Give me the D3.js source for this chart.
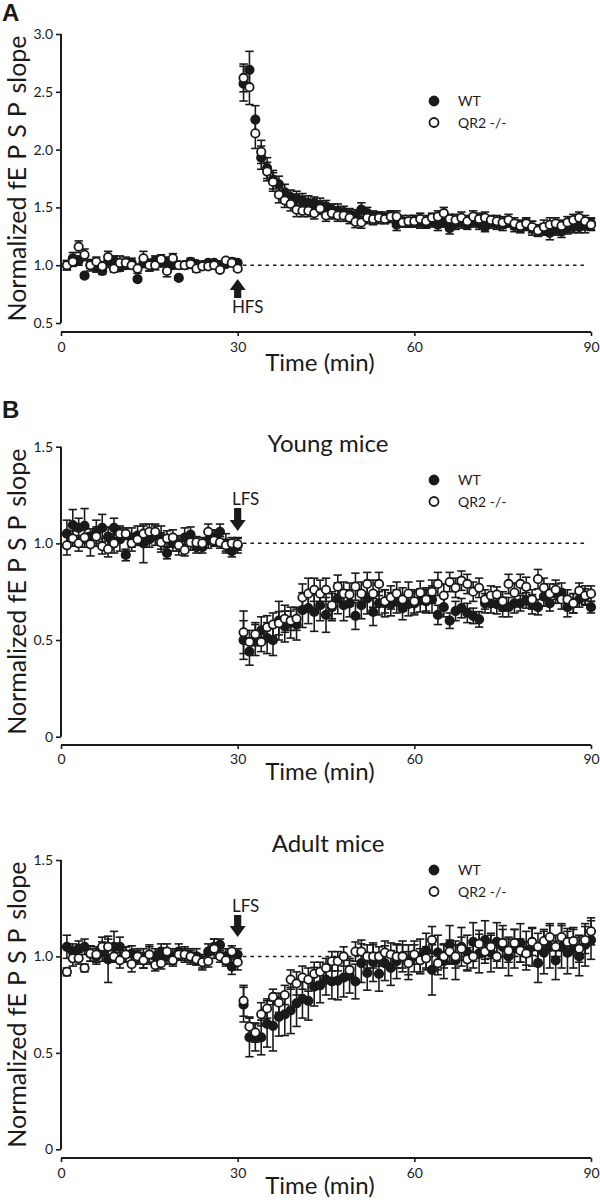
<!DOCTYPE html>
<html>
<head>
<meta charset="utf-8">
<script src="https://cdn.jsdelivr.net/npm/d3@7"></script>
<style>
  html, body { margin: 0; padding: 0; background: #fff; }
  svg text { font-family: Lato, "Open Sans", sans-serif; fill: #1a1a1a; }
</style>
</head>
<body>
<svg id="chart" width="600" height="1200"></svg>
<script>
// ---------- DATA ----------
const time = [1,2,3,4,5,6,7,8,9,10,11,12,13,14,15,16,17,18,19,20,21,22,23,24,25,26,27,28,29,30,
  31,32,33,34,35,36,37,38,39,40,41,42,43,44,45,46,47,48,49,50,51,52,53,54,55,56,57,58,59,60,
  61,62,63,64,65,66,67,68,69,70,71,72,73,74,75,76,77,78,79,80,81,82,83,84,85,86,87,88,89,90];
const seriesNames = ["WT", "QR2 -/-"];
const xTicks = [0, 30, 60, 90];
const yTicksA = [0.5, 1.0, 1.5, 2.0, 2.5, 3.0];
const yTicksB = [0, 0.5, 1.0, 1.5];
const panelTitles = ["", "Young mice", "Adult mice"];
const stimLabels = ["HFS", "LFS", "LFS"];
const xLabel = "Time (min)";

// Panel A (HFS, LTP)
const aWT = [1.00,1.06,1.04,0.91,1.00,0.98,0.95,1.03,1.04,0.98,1.00,1.02,0.88,1.02,1.00,1.04,1.02,1.03,1.00,0.89,1.00,1.03,1.01,1.00,1.02,1.02,1.00,1.01,1.03,1.02,
  2.57,2.69,2.26,1.93,1.84,1.74,1.70,1.63,1.59,1.58,1.56,1.54,1.54,1.52,1.51,1.48,1.47,1.46,1.44,1.43,1.48,1.45,1.42,1.42,1.41,1.42,1.35,1.38,1.37,1.38,
  1.37,1.36,1.38,1.35,1.37,1.32,1.36,1.37,1.35,1.38,1.36,1.33,1.37,1.36,1.35,1.37,1.34,1.33,1.35,1.32,1.30,1.31,1.28,1.31,1.29,1.32,1.33,1.33,1.34,1.36];
const aWTerr = [0.04,0.05,0.04,0.02,0.05,0.04,0.03,0.05,0.04,0.03,0.03,0.04,0.02,0.04,0.05,0.04,0.03,0.04,0.03,0.02,0.03,0.03,0.02,0.02,0.02,0.02,0.02,0.02,0.03,0.02,
  0.15,0.16,0.12,0.10,0.09,0.08,0.07,0.07,0.06,0.06,0.06,0.06,0.05,0.06,0.05,0.05,0.06,0.05,0.05,0.05,0.06,0.05,0.05,0.04,0.05,0.05,0.05,0.05,0.04,0.05,
  0.05,0.04,0.05,0.05,0.04,0.05,0.05,0.05,0.04,0.05,0.05,0.04,0.05,0.05,0.05,0.04,0.05,0.05,0.05,0.06,0.05,0.05,0.06,0.05,0.05,0.05,0.05,0.05,0.06,0.05];
const aKO = [1.00,1.03,1.16,1.09,1.00,1.03,0.99,1.07,0.97,1.02,1.02,1.00,0.97,1.06,1.00,1.00,1.05,0.95,1.06,1.00,1.00,1.01,0.97,0.99,0.99,1.00,0.96,1.04,1.02,0.97,
  2.62,2.54,2.14,1.98,1.81,1.72,1.61,1.56,1.53,1.48,1.47,1.47,1.45,1.49,1.43,1.45,1.43,1.43,1.41,1.375,1.37,1.41,1.40,1.41,1.40,1.42,1.42,1.37,1.38,1.38,
  1.40,1.38,1.41,1.42,1.45,1.40,1.39,1.41,1.38,1.42,1.40,1.41,1.39,1.38,1.37,1.39,1.36,1.34,1.36,1.33,1.30,1.33,1.35,1.36,1.34,1.37,1.39,1.41,1.38,1.35];
const aKOerr = [0.04,0.04,0.05,0.05,0.03,0.04,0.04,0.05,0.03,0.06,0.05,0.03,0.04,0.06,0.05,0.04,0.04,0.05,0.04,0.03,0.03,0.02,0.03,0.02,0.02,0.02,0.02,0.02,0.02,0.02,
  0.12,0.15,0.13,0.10,0.08,0.08,0.07,0.06,0.06,0.06,0.05,0.05,0.05,0.05,0.05,0.05,0.05,0.05,0.05,0.05,0.05,0.05,0.05,0.05,0.04,0.05,0.05,0.04,0.05,0.05,
  0.05,0.05,0.04,0.05,0.05,0.04,0.05,0.05,0.05,0.05,0.05,0.05,0.04,0.05,0.05,0.05,0.05,0.05,0.05,0.05,0.05,0.06,0.06,0.05,0.05,0.05,0.05,0.05,0.05,0.05];

// Panel B young (LFS, LTD)
const yWT = [1.05,1.095,1.08,1.09,1.035,1.06,1.08,1.035,1.08,1.02,0.94,1.03,1.04,1.00,1.02,1.04,1.03,0.95,1.00,0.99,1.03,1.045,0.98,0.98,1.015,1.03,1.06,1.00,0.96,0.99,
  0.50,0.44,0.50,0.55,0.51,0.50,0.60,0.57,0.59,0.58,0.655,0.665,0.645,0.68,0.63,0.67,0.716,0.68,0.69,0.625,0.68,0.715,0.645,0.69,0.69,0.685,0.70,0.665,0.685,0.69,
  0.705,0.70,0.71,0.63,0.67,0.60,0.65,0.665,0.64,0.625,0.607,0.69,0.69,0.685,0.67,0.67,0.69,0.69,0.705,0.685,0.67,0.725,0.69,0.74,0.745,0.67,0.69,0.71,0.725,0.67];
const yWTerr = [0.07,0.08,0.05,0.09,0.04,0.06,0.07,0.05,0.05,0.06,0.03,0.05,0.05,0.10,0.04,0.05,0.06,0.03,0.04,0.05,0.05,0.04,0.03,0.03,0.04,0.04,0.04,0.05,0.03,0.04,
  0.10,0.07,0.08,0.07,0.08,0.08,0.10,0.08,0.08,0.08,0.09,0.08,0.10,0.08,0.09,0.07,0.08,0.08,0.07,0.07,0.07,0.08,0.07,0.06,0.07,0.06,0.06,0.06,0.06,0.06,
  0.06,0.06,0.07,0.05,0.05,0.04,0.05,0.05,0.05,0.04,0.04,0.05,0.05,0.05,0.05,0.05,0.05,0.04,0.04,0.05,0.04,0.05,0.04,0.05,0.05,0.05,0.05,0.04,0.04,0.03];
const yKO = [0.99,1.025,1.00,1.03,0.995,1.035,0.985,0.97,1.00,1.05,1.05,1.00,1.02,1.05,1.06,1.06,1.005,1.025,1.03,0.99,0.965,1.005,1.005,1.00,1.06,1.015,1.005,0.99,1.00,0.995,
  0.54,0.49,0.53,0.49,0.566,0.58,0.587,0.61,0.60,0.61,0.72,0.74,0.76,0.74,0.76,0.68,0.776,0.74,0.735,0.776,0.74,0.79,0.74,0.79,0.70,0.72,0.74,0.71,0.74,0.70,
  0.745,0.71,0.75,0.79,0.73,0.80,0.77,0.807,0.79,0.75,0.77,0.71,0.73,0.735,0.70,0.79,0.745,0.79,0.775,0.71,0.815,0.77,0.74,0.76,0.71,0.71,0.69,0.755,0.73,0.74];
const yKOerr = [0.05,0.04,0.04,0.05,0.06,0.05,0.04,0.04,0.05,0.04,0.03,0.04,0.03,0.04,0.04,0.04,0.05,0.04,0.04,0.03,0.03,0.04,0.03,0.03,0.04,0.03,0.03,0.03,0.03,0.03,
  0.11,0.06,0.06,0.05,0.06,0.06,0.06,0.07,0.05,0.06,0.07,0.08,0.06,0.07,0.06,0.07,0.06,0.06,0.06,0.07,0.06,0.06,0.07,0.06,0.06,0.06,0.06,0.06,0.06,0.06,
  0.06,0.06,0.06,0.06,0.06,0.05,0.05,0.05,0.05,0.05,0.05,0.05,0.05,0.04,0.05,0.05,0.05,0.05,0.05,0.05,0.05,0.05,0.05,0.05,0.05,0.05,0.05,0.04,0.05,0.04];

// Panel B adult (LFS, LTD)
const dWT = [1.05,1.025,1.04,1.05,1.015,1.00,1.025,0.985,1.05,1.05,1.01,1.015,1.00,0.99,1.01,1.00,1.025,1.00,1.00,1.025,1.01,1.00,1.00,0.97,1.025,1.05,1.06,1.00,0.947,1.01,
  0.75,0.58,0.58,0.58,0.65,0.64,0.687,0.70,0.72,0.757,0.78,0.77,0.843,0.85,0.88,0.87,0.875,0.89,0.90,0.87,0.965,0.915,0.97,0.91,0.965,0.94,0.975,1.00,0.97,1.00,
  1.00,1.03,0.93,1.02,0.975,1.06,0.98,1.05,1.02,1.075,1.015,1.085,1.02,1.075,1.05,1.00,1.04,1.07,1.03,1.05,0.965,1.02,1.05,0.98,1.05,1.02,1.04,1.00,1.06,1.085];
const dWTerr = [0.06,0.04,0.04,0.04,0.04,0.04,0.05,0.12,0.08,0.05,0.04,0.04,0.04,0.05,0.04,0.04,0.04,0.04,0.04,0.04,0.04,0.04,0.04,0.04,0.04,0.04,0.03,0.04,0.04,0.03,
  0.09,0.10,0.07,0.09,0.12,0.13,0.10,0.11,0.12,0.12,0.10,0.10,0.10,0.09,0.08,0.09,0.10,0.10,0.09,0.09,0.10,0.09,0.10,0.09,0.09,0.09,0.09,0.08,0.09,0.08,
  0.09,0.09,0.13,0.09,0.09,0.10,0.10,0.10,0.09,0.10,0.10,0.10,0.10,0.10,0.11,0.10,0.10,0.10,0.10,0.10,0.10,0.11,0.11,0.10,0.11,0.11,0.10,0.10,0.11,0.10];
const dKO = [0.92,0.99,0.99,0.94,1.015,1.01,1.05,1.05,1.00,0.98,1.01,0.96,1.00,0.98,1.01,0.955,0.965,1.025,0.98,1.01,1.01,1.00,0.985,0.97,0.975,1.04,1.00,0.98,1.025,0.97,
  0.77,0.636,0.605,0.70,0.73,0.79,0.76,0.80,0.88,0.86,0.89,0.88,0.91,0.92,0.94,0.975,0.975,1.00,0.93,1.025,1.025,1.00,1.00,1.00,1.02,1.01,1.00,1.00,0.965,1.01,
  0.98,0.99,1.085,0.965,1.00,1.025,1.00,1.04,0.985,1.00,1.065,1.025,1.05,1.00,1.07,1.03,1.07,1.03,1.015,1.075,1.05,1.08,1.10,1.05,1.10,1.075,1.08,1.04,1.085,1.13];
const dKOerr = [0.02,0.04,0.03,0.02,0.04,0.04,0.05,0.04,0.03,0.04,0.04,0.04,0.03,0.04,0.05,0.03,0.03,0.04,0.03,0.03,0.03,0.03,0.03,0.03,0.03,0.05,0.03,0.03,0.03,0.04,
  0.08,0.05,0.05,0.06,0.05,0.04,0.05,0.05,0.05,0.06,0.06,0.06,0.06,0.05,0.05,0.05,0.05,0.05,0.05,0.05,0.06,0.06,0.06,0.05,0.06,0.06,0.06,0.06,0.06,0.05,
  0.06,0.06,0.07,0.06,0.06,0.06,0.06,0.06,0.06,0.06,0.07,0.06,0.06,0.06,0.07,0.06,0.07,0.06,0.06,0.07,0.07,0.06,0.07,0.06,0.07,0.07,0.07,0.07,0.07,0.07];

// ---------- LAYOUT ----------
const svg = d3.select("#chart");
const ink = "#1a1a1a";
const X0 = 61, X1 = 591;

const panels = [
  { wt: aWT, wtE: aWTerr, ko: aKO, koE: aKOerr, dom: [0.5, 3.0], top: 34, bot: 323, xAxisY: 332,
    ticks: yTicksA, fmt: d3.format(".1f"), title: panelTitles[0], titleY: 0, stim: stimLabels[0], up: true,
    stimTextY: 313, arrowTip: 279, arrowEnd: 298, legY: 101, letter: "A", letterY: 21, xLabY: 371, xTickY: 352 },
  { wt: yWT, wtE: yWTerr, ko: yKO, koE: yKOerr, dom: [0, 1.5], top: 446.7, bot: 736.7, xAxisY: 745,
    ticks: yTicksB, fmt: d => d === 0 ? "0" : d3.format(".1f")(d), title: panelTitles[1], titleY: 452, stim: stimLabels[1], up: false,
    stimTextY: 505, arrowTip: 531, arrowEnd: 508, legY: 480, letter: "B", letterY: 418, xLabY: 780, xTickY: 764 },
  { wt: dWT, wtE: dWTerr, ko: dKO, koE: dKOerr, dom: [0, 1.5], top: 860, bot: 1149.3, xAxisY: 1158,
    ticks: yTicksB, fmt: d => d === 0 ? "0" : d3.format(".1f")(d), title: panelTitles[2], titleY: 852, stim: stimLabels[2], up: false,
    stimTextY: 912, arrowTip: 937, arrowEnd: 915, legY: 870, letter: "", letterY: 0, xLabY: 1194, xTickY: 1178 }
];

panels.forEach(p => {
  const x = d3.scaleLinear().domain([0, 90]).range([X0, X1]);
  const y = d3.scaleLinear().domain(p.dom).range([p.bot, p.top]);
  const g = svg.append("g");

  // Y axis
  const yAxis = g.append("g").attr("transform", `translate(${X0},0)`)
    .call(d3.axisLeft(y).tickValues(p.ticks).tickFormat(p.fmt).tickSize(5).tickPadding(3));
  // X axis
  const xAxis = g.append("g").attr("transform", `translate(0,${p.xAxisY})`)
    .call(d3.axisBottom(x).tickValues(xTicks).tickSize(4).tickPadding(8));
  [yAxis, xAxis].forEach(a => {
    a.select(".domain").attr("stroke", ink).attr("stroke-width", 2);
    a.selectAll(".tick line").attr("stroke", ink).attr("stroke-width", 1.6);
    a.selectAll(".tick text").attr("font-size", 14).attr("fill", ink)
      .style("font-family", "Lato, 'Open Sans', sans-serif");
  });
  yAxis.select(".domain").attr("d", `M0,${y.range()[0]}V${y.range()[1]}`);
  xAxis.select(".domain").attr("d", `M${X0},0H${X1}`);
  xAxis.selectAll(".tick text").attr("y", p.xTickY - p.xAxisY).attr("dy", 0);

  // Axis labels
  g.append("text").attr("x", 320).attr("y", p.xLabY).attr("text-anchor", "middle")
    .attr("font-size", 24).text(xLabel);
  const yl = g.append("text")
    .attr("transform", `translate(26,${(p.top + p.bot) / 2}) rotate(-90)`)
    .attr("text-anchor", "middle").attr("font-size", 25);
  yl.append("tspan").text("Normalized f");
  yl.append("tspan").attr("letter-spacing", 7).text("EPS");
  yl.append("tspan").text("P");
  yl.append("tspan").attr("dx", 9).text("slope");

  // Title
  if (p.title) {
    g.append("text").attr("x", 328).attr("y", p.titleY).attr("text-anchor", "middle")
      .attr("font-size", 24).text(p.title);
  }
  if (p.letter) {
    g.append("text").attr("x", 2).attr("y", p.letterY).attr("font-size", 24)
      .attr("font-weight", "bold").style("font-family", "'Liberation Sans', Arial, sans-serif")
      .text(p.letter);
  }

  // Dashed baseline
  g.append("line").attr("x1", x(30.9)).attr("x2", x(89.5)).attr("y1", y(1)).attr("y2", y(1))
    .attr("stroke", ink).attr("stroke-width", 1.5).attr("stroke-dasharray", "3.5,4");

  // Stim arrow
  const ax = x(30);
  const dir = p.up ? -1 : 1;
  const headLen = 11, headW = 8, shaftW = 3.6;
  const tip = p.arrowTip, end = p.arrowEnd;
  const headBase = tip - dir * headLen;
  g.append("path")
    .attr("d", `M${ax},${tip} L${ax - headW},${headBase} L${ax - shaftW},${headBase} L${ax - shaftW},${end} L${ax + shaftW},${end} L${ax + shaftW},${headBase} L${ax + headW},${headBase} Z`)
    .attr("fill", ink);
  g.append("text").attr("x", p.up ? ax + 10 : ax + 8).attr("y", p.stimTextY).attr("text-anchor", "middle")
    .attr("font-size", 17).text(p.stim);

  // Data series
  const series = [
    { name: seriesNames[0], v: p.wt, e: p.wtE, fill: ink },
    { name: seriesNames[1], v: p.ko, e: p.koE, fill: "#fff" }
  ];
  series.forEach(s => {
    const pts = time.map((t, i) => ({ t, v: s.v[i], e: s.e[i] }));
    const sg = g.append("g");
    const eb = sg.selectAll("g.eb").data(pts).join("g").attr("class", "eb");
    eb.append("line").attr("x1", d => x(d.t)).attr("x2", d => x(d.t))
      .attr("y1", d => y(d.v - d.e)).attr("y2", d => y(d.v + d.e))
      .attr("stroke", ink).attr("stroke-width", 1.6);
    eb.append("line").attr("x1", d => x(d.t) - 4.2).attr("x2", d => x(d.t) + 4.2)
      .attr("y1", d => y(d.v + d.e)).attr("y2", d => y(d.v + d.e))
      .attr("stroke", ink).attr("stroke-width", 1.6);
    eb.append("line").attr("x1", d => x(d.t) - 4.2).attr("x2", d => x(d.t) + 4.2)
      .attr("y1", d => y(d.v - d.e)).attr("y2", d => y(d.v - d.e))
      .attr("stroke", ink).attr("stroke-width", 1.6);
    sg.selectAll("circle").data(pts).join("circle")
      .attr("cx", d => x(d.t)).attr("cy", d => y(d.v)).attr("r", 4.2)
      .attr("fill", s.fill).attr("stroke", ink).attr("stroke-width", 1.8);
  });

  // Legend
  series.forEach((s, i) => {
    const ly = p.legY + i * 21.5;
    g.append("circle").attr("cx", 434).attr("cy", ly).attr("r", 4.5)
      .attr("fill", s.fill).attr("stroke", ink).attr("stroke-width", 1.8);
    g.append("text").attr("x", 458).attr("y", ly + 5).attr("font-size", 14).text(s.name);
  });
});
</script>
</body>
</html>
